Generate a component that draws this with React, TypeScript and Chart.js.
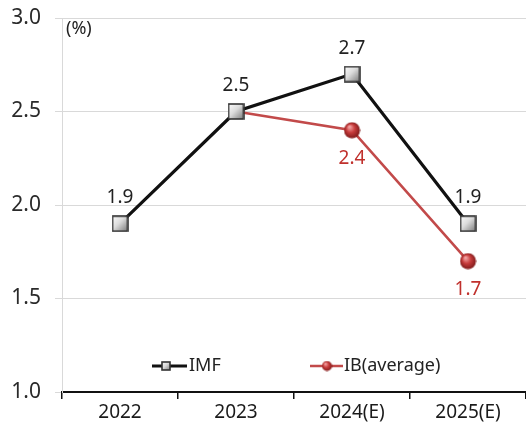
import { useEffect, useRef } from "react";
import { Chart, registerables } from "chart.js";

Chart.register(...registerables);

// Growth outlook, percent
const years = ["2022", "2023", "2024(E)", "2025(E)"];
const imfGrowth: number[] = [1.9, 2.5, 2.7, 1.9];
const ibAverage: (number | null)[] = [null, 2.5, 2.4, 1.7];
const seriesNames = ["IMF", "IB(average)"];
const yMin = 1.0;
const yMax = 3.0;
const yStep = 0.5;
const unitLabel = "(%)";

const FONT = "'Noto Sans', 'Open Sans', sans-serif";
const IMF_LINE = "#111111";
const IB_LINE = "#c24a4a";
const IB_TEXT = "#c0302c";

function squareMarker(size: number): HTMLCanvasElement {
  const c = document.createElement("canvas");
  c.width = size;
  c.height = size;
  const g = c.getContext("2d")!;
  const grad = g.createLinearGradient(0, 0, size, size);
  grad.addColorStop(0, "#ffffff");
  grad.addColorStop(0.45, "#dcdcdc");
  grad.addColorStop(1, "#707070");
  g.fillStyle = grad;
  g.fillRect(1, 1, size - 2, size - 2);
  g.strokeStyle = "#333333";
  g.lineWidth = 1.6;
  g.strokeRect(1, 1, size - 2, size - 2);
  return c;
}

function sphereMarker(size: number): HTMLCanvasElement {
  const c = document.createElement("canvas");
  c.width = size;
  c.height = size;
  const g = c.getContext("2d")!;
  const r = size / 2;
  const grad = g.createRadialGradient(r * 0.7, r * 0.6, r * 0.1, r, r, r);
  grad.addColorStop(0, "#f0a0a0");
  grad.addColorStop(0.45, "#c83c3c");
  grad.addColorStop(1, "#7a1818");
  g.fillStyle = grad;
  g.beginPath();
  g.arc(r, r, r - 0.5, 0, Math.PI * 2);
  g.fill();
  return c;
}

export default function App() {
  const canvasRef = useRef<HTMLCanvasElement | null>(null);

  useEffect(() => {
    const canvas = canvasRef.current;
    if (!canvas) return;

    const imfPoint = squareMarker(17);
    const ibPoint = sphereMarker(17);
    const imfLegendPoint = squareMarker(10);
    const ibLegendPoint = sphereMarker(11);

    // value labels above IMF points, below IB points, unit label and in-plot legend
    const overlay = {
      id: "overlay",
      afterDatasetsDraw(chart: any) {
        const ctx = chart.ctx as CanvasRenderingContext2D;
        const area = chart.chartArea;
        ctx.save();
        ctx.textAlign = "center";
        ctx.textBaseline = "middle";
        ctx.font = `19px ${FONT}`;

        const imfMeta = chart.getDatasetMeta(0);
        imfMeta.data.forEach((pt: any, i: number) => {
          ctx.fillStyle = "#222222";
          ctx.fillText(imfGrowth[i].toFixed(1), pt.x, pt.y - 26);
        });
        const ibMeta = chart.getDatasetMeta(1);
        ibMeta.data.forEach((pt: any, i: number) => {
          const v = ibAverage[i];
          if (v === null || v === imfGrowth[i]) return;
          ctx.fillStyle = IB_TEXT;
          ctx.fillText(v.toFixed(1), pt.x, pt.y + 28);
        });

        ctx.textAlign = "left";
        ctx.fillStyle = "#222222";
        ctx.font = `18px ${FONT}`;
        ctx.fillText(unitLabel, area.left + 4, area.top + 11);

        // legend
        const ly = area.bottom - 26;
        ctx.font = `18px ${FONT}`;
        ctx.lineWidth = 3;
        ctx.strokeStyle = IMF_LINE;
        ctx.beginPath();
        ctx.moveTo(152, ly);
        ctx.lineTo(187, ly);
        ctx.stroke();
        ctx.drawImage(imfLegendPoint, 166 - 5, ly - 5);
        ctx.fillStyle = "#222222";
        ctx.fillText(seriesNames[0], 189, ly);

        ctx.lineWidth = 2.5;
        ctx.strokeStyle = IB_LINE;
        ctx.beginPath();
        ctx.moveTo(310, ly);
        ctx.lineTo(343, ly);
        ctx.stroke();
        ctx.drawImage(ibLegendPoint, 327 - 5.5, ly - 5.5);
        ctx.fillStyle = "#222222";
        ctx.fillText(seriesNames[1], 344, ly);
        ctx.restore();
      },
    };

    const chart = new Chart(canvas, {
      type: "line",
      data: {
        labels: years,
        datasets: [
          {
            label: seriesNames[0],
            data: imfGrowth,
            borderColor: IMF_LINE,
            borderWidth: 3.2,
            pointStyle: imfPoint as any,
            pointRadius: 8,
            tension: 0,
          },
          {
            label: seriesNames[1],
            data: ibAverage,
            borderColor: IB_LINE,
            borderWidth: 2.6,
            pointStyle: ibPoint as any,
            pointRadius: ibAverage.map((v, i) => (v === imfGrowth[i] ? 0 : 8)),
            tension: 0,
          },
        ],
      },
      options: {
        responsive: false,
        animation: false,
        layout: { autoPadding: false, padding: { top: 18, right: 0, left: 0, bottom: 0 } },
        plugins: {
          legend: { display: false },
          tooltip: { enabled: false },
        },
        scales: {
          x: {
            type: "category",
            offset: true,
            grid: {
              display: true,
              drawOnChartArea: false,
              drawTicks: true,
              tickLength: 7,
              color: "#111111",
              lineWidth: 1.5,
              offset: true,
            },
            border: { color: "#111111", width: 2 },
            ticks: {
              color: "#1a1a1a",
              font: { family: FONT, size: 19 },
              padding: 2,
            },
            afterFit: (s: any) => {
              s.height = 36;
              s.paddingLeft = 0;
              s.paddingRight = 0;
            },
          },
          y: {
            min: yMin,
            max: yMax,
            grid: { color: "#d9d9d9", lineWidth: 1, tickLength: 7 },
            border: { color: "#d9d9d9", width: 1 },
            ticks: {
              stepSize: yStep,
              color: "#2a2a2a",
              font: { family: FONT, size: 21 },
              padding: 14,
              callback: (v: any) => Number(v).toFixed(1),
            },
            afterFit: (s: any) => {
              s.width = 62;
              s.paddingTop = 0;
              s.paddingBottom = 0;
            },
          },
        },
      },
      plugins: [overlay],
    });

    return () => chart.destroy();
  }, []);

  return (
    <div style={{ position: "absolute", left: 0, top: 0, width: 526, height: 428, background: "#ffffff" }}>
      <canvas ref={canvasRef} width={526} height={428} />
    </div>
  );
}
